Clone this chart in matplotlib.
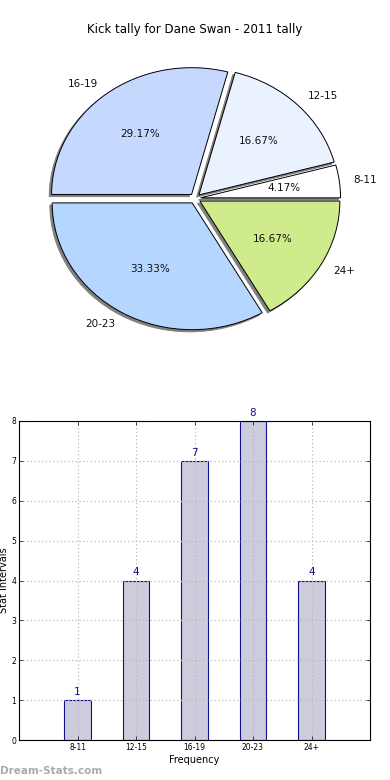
import matplotlib
matplotlib.use("Agg")
import matplotlib.pyplot as plt

categories = ["8-11", "12-15", "16-19", "20-23", "24+"]
counts = [1, 4, 7, 8, 4]
pie_colors = ["#ffffff", "#ebf2ff", "#c5d9ff", "#b5d6ff", "#cfeb8b"]
title = "Kick tally for Dane Swan - 2011 tally"
yticks = [0, 1, 2, 3, 4, 5, 6, 7, 8]

W, H = 390, 780
fig = plt.figure(figsize=(W / 100, H / 100), dpi=100)

def ax_px(l, t, r, b):
    return fig.add_axes([l / W, 1 - b / H, (r - l) / W, (b - t) / H])

# Pie
pax = ax_px(20, 40, 370, 357)
pax.pie(counts, labels=categories, colors=pie_colors, explode=[0.04] * 5,
        autopct="%.2f%%", startangle=0,
        shadow={"ox": -0.012, "oy": -0.012, "facecolor": "#808080",
                "edgecolor": "#808080", "alpha": 1.0},
        wedgeprops={"edgecolor": "black", "linewidth": 0.7},
        textprops={"fontsize": 7.5, "color": "#111111"})
pax.set_aspect("auto")
pax.set_xlim(-1.25, 1.25)
pax.set_ylim(-1.25, 1.25)
fig.text(195 / W, 1 - 30 / H, title, ha="center", va="center", fontsize=8.5)

# Bar chart
bax = ax_px(19, 421, 370, 740)
x = list(range(1, len(categories) + 1))
bax.bar(x, counts, width=0.45, color="#ccccdd", edgecolor="#101090", linewidth=0.8, zorder=2)
for xi, c in zip(x, counts):
    bax.text(xi, c + 0.08, str(c), ha="center", va="bottom", color="#101090", fontsize=7.5)
bax.set_xlim(0, 6)
bax.set_ylim(0, 8)
bax.set_xticks(x)
bax.set_xticklabels(categories, fontsize=5.5)
bax.set_yticks(yticks)
bax.set_yticklabels([str(v) for v in yticks], fontsize=5.5)
bax.tick_params(direction="in", top=True, right=True, length=3, width=0.5, pad=2)
bax.set_axisbelow(False)
bax.grid(True, linestyle=(0, (1, 2)), color="#bbbbbb", linewidth=0.9, zorder=3)
bax.set_xlabel("Frequency", fontsize=7, labelpad=2.5)
bax.set_ylabel("Stat Intervals", fontsize=7, labelpad=2)
for s in bax.spines.values():
    s.set_linewidth(0.8)
    s.set_zorder(4)

fig.text(0 / W, 1 - 771 / H, "Dream-Stats.com", ha="left", va="center",
         fontsize=7.5, color="#aaaaaa", fontweight="bold")

fig.savefig("out.png", dpi=100)
